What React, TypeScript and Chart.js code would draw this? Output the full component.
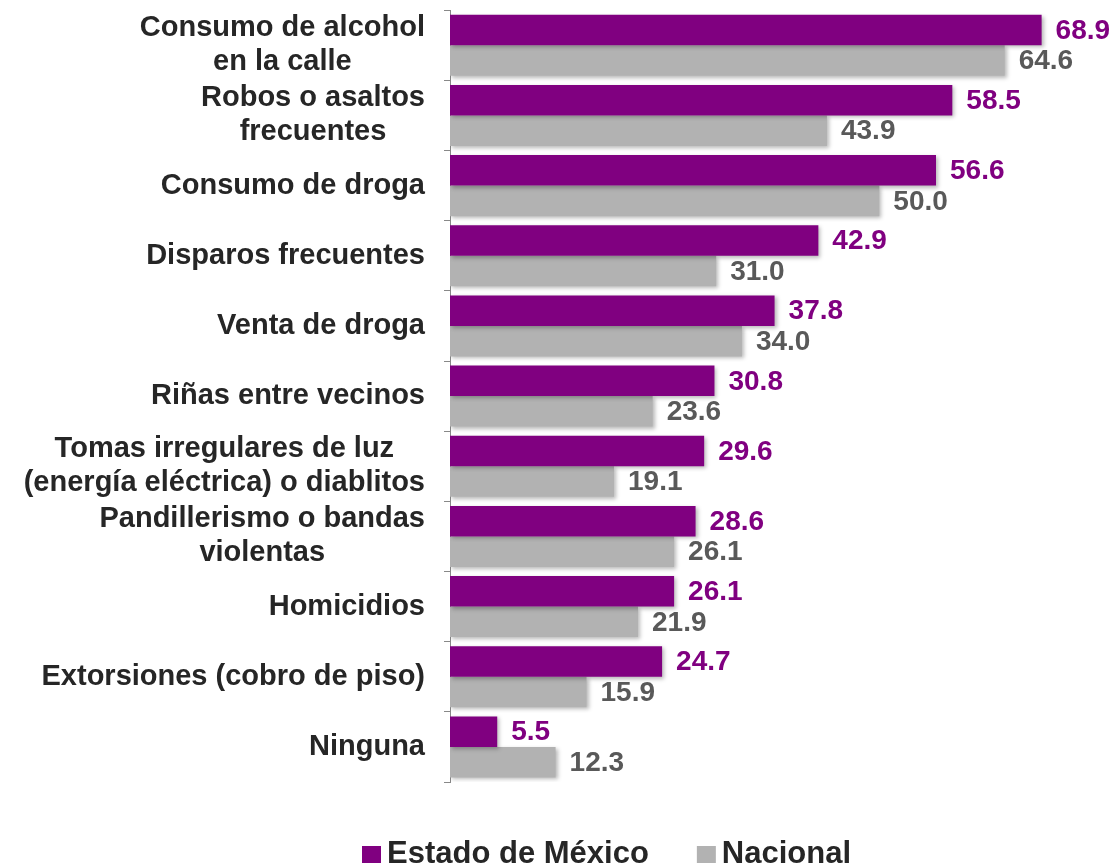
import React, { useEffect, useRef } from "react";
import { Chart, registerables } from "chart.js";

Chart.register(...registerables);

const categories: string[][] = [
  ["Consumo de alcohol", "en la calle"],
  ["Robos o asaltos", "frecuentes"],
  ["Consumo de droga"],
  ["Disparos frecuentes"],
  ["Venta de droga"],
  ["Riñas entre vecinos"],
  ["Tomas irregulares de luz", "(energía eléctrica) o diablitos"],
  ["Pandillerismo o bandas", "violentas"],
  ["Homicidios"],
  ["Extorsiones (cobro de piso)"],
  ["Ninguna"],
];

const estadoValues = [68.9, 58.5, 56.6, 42.9, 37.8, 30.8, 29.6, 28.6, 26.1, 24.7, 5.5];
const nacionalValues = [64.6, 43.9, 50.0, 31.0, 34.0, 23.6, 19.1, 26.1, 21.9, 15.9, 12.3];

const seriesNames = ["Estado de México", "Nacional"];
const barColors = ["#800080", "#b2b2b2"];
const valueColors = ["#800080", "#595959"];

const FONT = "'Liberation Sans', Arial, sans-serif";

export default function App() {
  const ref = useRef<HTMLCanvasElement | null>(null);

  useEffect(() => {
    const canvas = ref.current;
    if (!canvas) return;

    const shadowPlugin = {
      id: "barShadow",
      beforeDatasetsDraw(chart: any) {
        const ctx = chart.ctx;
        ctx.save();
        ctx.shadowColor = "rgba(0,0,0,0.28)";
        ctx.shadowBlur = 4;
        ctx.shadowOffsetX = 2;
        ctx.shadowOffsetY = 2;
      },
      afterDatasetsDraw(chart: any) {
        chart.ctx.restore();
      },
    };

    const labelsPlugin = {
      id: "customLabels",
      afterDatasetsDraw(chart: any) {
        const ctx = chart.ctx;
        // value labels
        chart.data.datasets.forEach((ds: any, di: number) => {
          const meta = chart.getDatasetMeta(di);
          meta.data.forEach((bar: any, i: number) => {
            const v = ds.data[i];
            ctx.save();
            ctx.font = `bold 28px ${FONT}`;
            ctx.fillStyle = valueColors[di];
            ctx.textAlign = "left";
            ctx.textBaseline = "middle";
            ctx.fillText(v.toFixed(1), bar.x + 14, bar.y + 1);
            ctx.restore();
          });
        });
        // category labels
        const yScale = chart.scales.y;
        const rightEdge = 425;
        const lineH = 34;
        categories.forEach((lines, i) => {
          const cy = yScale.getPixelForValue(i);
          ctx.save();
          ctx.font = `bold 29px ${FONT}`;
          ctx.fillStyle = "#262626";
          ctx.textBaseline = "middle";
          ctx.textAlign = "center";
          const maxW = Math.max(...lines.map((l) => ctx.measureText(l).width));
          const cx = rightEdge - maxW / 2;
          const startY = cy - ((lines.length - 1) * lineH) / 2;
          lines.forEach((l, li) => {
            ctx.fillText(l, cx, startY + li * lineH);
          });
          ctx.restore();
        });
        // legend
        ctx.save();
        ctx.font = `bold 31px ${FONT}`;
        ctx.textBaseline = "middle";
        ctx.textAlign = "left";
        const ly = 853;
        const box = 19;
        const gapBoxText = 6;
        const gapItems = 48;
        const widths = seriesNames.map((n) => box + gapBoxText + ctx.measureText(n).width);
        let x = 362;
        seriesNames.forEach((n, k) => {
          ctx.fillStyle = barColors[k];
          ctx.fillRect(x, ly - 7, box, 17);
          ctx.fillStyle = "#262626";
          ctx.fillText(n, x + box + gapBoxText, ly + 1);
          x += widths[k] + gapItems;
        });
        ctx.restore();
      },
    };

    const chart = new Chart(canvas, {
      type: "bar",
      data: {
        labels: categories.map((c) => c.join(" ")),
        datasets: [
          {
            label: seriesNames[0],
            data: estadoValues,
            backgroundColor: barColors[0],
            categoryPercentage: 0.87,
            barPercentage: 1,
          },
          {
            label: seriesNames[1],
            data: nacionalValues,
            backgroundColor: barColors[1],
            categoryPercentage: 0.87,
            barPercentage: 1,
          },
        ],
      },
      options: {
        indexAxis: "y",
        responsive: false,
        animation: false,
        layout: { padding: { top: 8, right: 21, bottom: 83, left: 0 } },
        plugins: {
          legend: { display: false },
          tooltip: { enabled: false },
        },
        scales: {
          x: {
            display: false,
            min: 0,
            max: 75,
          },
          y: {
            type: "category",
            offset: true,
            grid: {
              display: true,
              drawOnChartArea: false,
              drawTicks: true,
              tickLength: 6,
              offset: true,
              color: "#888888",
            },
            border: { display: true, color: "#888888", width: 1 },
            ticks: {
              callback: () => "",
            },
            afterFit(scale: any) {
              scale.width = 450;
            },
          },
        },
      },
      plugins: [shadowPlugin, labelsPlugin],
    } as any);

    return () => chart.destroy();
  }, []);

  return (
    <div style={{ position: "fixed", left: 0, top: 0, width: 1115, height: 865, background: "#fff" }}>
      <canvas ref={ref} width={1115} height={865} style={{ display: "block" }} />
    </div>
  );
}
